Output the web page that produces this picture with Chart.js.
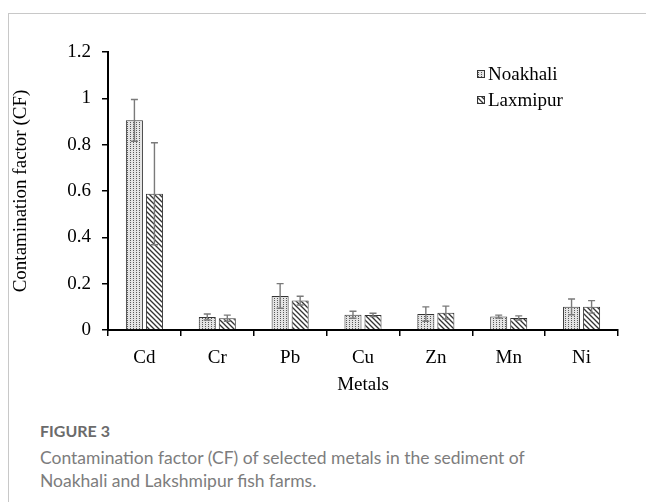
<!DOCTYPE html>
<html>
<head>
<meta charset="utf-8">
<script src="https://cdn.jsdelivr.net/npm/chart.js@4/dist/chart.umd.min.js"></script>
<style>
body { margin:0; background:#fff; width:646px; height:502px; overflow:hidden; position:relative; }
#frame { position:absolute; left:8px; top:13px; width:650px; height:500px; border-left:1px solid #c8c8c8; border-top:1px solid #c8c8c8; }
#wrap { position:absolute; left:0; top:0; width:646px; height:400px; }
#fig { position:absolute; left:40px; top:421px; font-family:Lato, "Open Sans", sans-serif; color:#6b6b6b; font-size:16px; font-weight:700; }
#cap { position:absolute; left:40px; top:446px; width:500px; font-family:Lato, "Open Sans", sans-serif; color:#7d7d7d; font-size:17.5px; line-height:23px; }
</style>
</head>
<body>
<div id="frame"></div>
<div id="wrap"><canvas id="myChart" width="646" height="400"></canvas></div>
<div id="fig">FIGURE 3</div>
<div id="cap">Contamination factor (CF) of selected metals in the sediment of Noakhali and Lakshmipur fish farms.</div>
<script>
// データ
const metals = ["Cd", "Cr", "Pb", "Cu", "Zn", "Mn", "Ni"];
const noakhali = [0.905, 0.056, 0.147, 0.066, 0.069, 0.058, 0.100];
const noakhaliErr = [0.09, 0.013, 0.053, 0.015, 0.031, 0.006, 0.034];
const laxmipur = [0.588, 0.051, 0.127, 0.065, 0.075, 0.052, 0.100];
const laxmipurErr = [0.22, 0.013, 0.019, 0.007, 0.028, 0.009, 0.027];
const yTicks = [0, 0.2, 0.4, 0.6, 0.8, 1, 1.2];

// 模様
function dotPattern() {
    const c = document.createElement("canvas");
    c.width = 3; c.height = 2;
    const g = c.getContext("2d");
    g.fillStyle = "#e4e4e4";
    g.fillRect(0, 0, 3, 2);
    g.fillStyle = "#5a5a5a";
    g.fillRect(1, 0, 1, 1);
    return g.createPattern(c, "repeat");
}
function hatchPattern() {
    const c = document.createElement("canvas");
    c.width = 5; c.height = 5;
    const g = c.getContext("2d");
    g.fillStyle = "#fff";
    g.fillRect(0, 0, 5, 5);
    g.strokeStyle = "#333";
    g.lineWidth = 1.3;
    g.beginPath();
    g.moveTo(-1, -1); g.lineTo(6, 6);
    g.moveTo(-1, 4); g.lineTo(1, 6);
    g.moveTo(4, -1); g.lineTo(6, 1);
    g.stroke();
    return g.createPattern(c, "repeat");
}

const serif = "'Liberation Serif', 'Times New Roman', serif";
const fs = 19;

// エラーバー
const errorBars = {
    id: "errorBars",
    afterDatasetsDraw(chart) {
        const ctx = chart.ctx;
        const ys = chart.scales.y;
        chart.data.datasets.forEach((ds, i) => {
            const meta = chart.getDatasetMeta(i);
            meta.data.forEach((bar, j) => {
                const v = ds.data[j], e = ds.errors[j];
                const top = ys.getPixelForValue(v + e);
                const bot = ys.getPixelForValue(v - e);
                ctx.save();
                ctx.strokeStyle = "#7a7a7a";
                ctx.lineWidth = 1.4;
                ctx.beginPath();
                ctx.moveTo(bar.x, top); ctx.lineTo(bar.x, bot);
                ctx.moveTo(bar.x - 3.5, top); ctx.lineTo(bar.x + 3.5, top);
                ctx.moveTo(bar.x - 3.5, bot); ctx.lineTo(bar.x + 3.5, bot);
                ctx.stroke();
                ctx.restore();
            });
        });
    }
};

// 凡例
const myLegend = {
    id: "myLegend",
    afterDraw(chart) {
        const ctx = chart.ctx;
        chart.data.datasets.forEach((ds, i) => {
            const y = 74 + i * 26;
            ctx.save();
            ctx.fillStyle = ds.backgroundColor;
            ctx.fillRect(477, y - 4, 8, 8);
            ctx.strokeStyle = "#333";
            ctx.lineWidth = 1;
            ctx.strokeRect(477.5, y - 3.5, 7, 7);
            ctx.fillStyle = "#000";
            ctx.font = fs + "px " + serif;
            ctx.textBaseline = "middle";
            ctx.fillText(ds.label, 488, y + 1);
            ctx.restore();
        });
    }
};

const ctx = document.getElementById("myChart").getContext("2d");
const chart = new Chart(ctx, {
    type: "bar",
    data: {
        labels: metals,
        datasets: [{
            label: "Noakhali",
            data: noakhali,
            errors: noakhaliErr,
            backgroundColor: dotPattern(),
            borderColor: "#333",
            borderWidth: 1
        }, {
            label: "Laxmipur",
            data: laxmipur,
            errors: laxmipurErr,
            backgroundColor: hatchPattern(),
            borderColor: "#333",
            borderWidth: 1
        }]
    },
    options: {
        responsive: false,
        animation: false,
        devicePixelRatio: 1,
        categoryPercentage: 0.55,
        barPercentage: 0.85,
        layout: { padding: { left: 10, right: 28, top: 52, bottom: 0 } },
        plugins: { legend: { display: false }, tooltip: { enabled: false } },
        scales: {
            x: {
                grid: { drawOnChartArea: false, tickLength: 6, color: "#000", lineWidth: 1.5 },
                border: { color: "#000", width: 2 },
                ticks: { color: "#000", font: { family: serif, size: fs }, padding: 11 },
                title: { display: true, text: "Metals", color: "#000", font: { family: serif, size: fs }, padding: { top: 1 } },
                afterFit: s => { s.height = 70; }
            },
            y: {
                min: 0, max: 1.2,
                afterBuildTicks: s => { s.ticks = yTicks.map(v => ({ value: v })); },
                grid: { drawOnChartArea: false, tickLength: 6, color: "#000", lineWidth: 1.5 },
                border: { color: "#000", width: 2 },
                ticks: { color: "#000", font: { family: serif, size: fs }, padding: 11,
                    callback: v => String(v) },
                title: { display: true, text: "Contamination factor (CF)", color: "#000", font: { family: serif, size: fs }, padding: 0 },
                afterFit: s => { s.width = 98; }
            }
        }
    },
    plugins: [errorBars, myLegend]
});
</script>
</body>
</html>
